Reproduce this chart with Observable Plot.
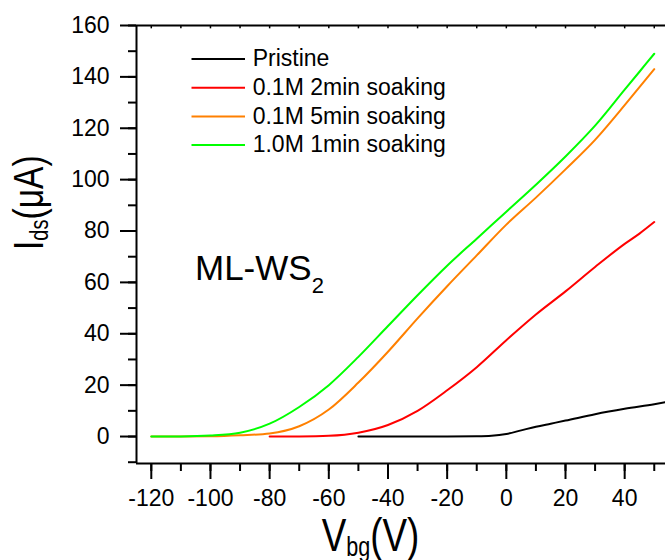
<!DOCTYPE html>
<html><head><meta charset="utf-8">
<script src="https://cdn.jsdelivr.net/npm/d3@7"></script>
<script src="https://cdn.jsdelivr.net/npm/@observablehq/plot@0.6"></script>
<style>body{margin:0;background:#fff} svg{display:block}</style>
</head><body><div id="chart"></div>
<script>
// ---- data ----
const seriesNames = ["Pristine", "0.1M 2min soaking", "0.1M 5min soaking", "1.0M 1min soaking"];
const seriesColors = ["#000000", "#ff0000", "#ff8000", "#00ff00"];

const pristineV = [-50, -20, -10, -5, 0, 5, 10, 15, 20, 30, 40, 50, 54];
const pristineI = [0, 0, 0.1, 0.3, 1, 2.4, 3.8, 5, 6.2, 8.7, 10.8, 12.6, 13.4];

const m01_2minV = [-80, -70, -60, -50, -40, -30, -20, -10, 0, 10, 20, 30, 40, 45, 50];
const m01_2minI = [0, 0.05, 0.3, 1.5, 4.5, 10, 18, 27, 37.5, 47.5, 56.5, 66, 75, 79, 83.5];

const m01_5minV = [-120, -110, -100, -90, -80, -70, -60, -50, -40, -30, -20, -10, 0, 10, 20, 30, 40, 45, 50];
const m01_5minI = [0, 0, 0.1, 0.5, 1.2, 4, 10.5, 21, 33, 46, 58.5, 70.5, 82.5, 93, 104, 115.5, 129, 136, 143];

const m10_1minV = [-120, -110, -100, -90, -80, -70, -60, -50, -40, -30, -20, -10, 0, 10, 20, 30, 40, 45, 50];
const m10_1minI = [0, 0.05, 0.4, 1.5, 5, 11.5, 20, 31, 43, 55, 66.5, 77, 87.5, 98, 109, 121, 135, 142, 149];

const xMajorTicks = [-120, -100, -80, -60, -40, -20, 0, 20, 40];
const xMinorTicks = [-120, -110, -100, -90, -80, -70, -60, -50, -40, -30, -20, -10, 0, 10, 20, 30, 40, 50];
const yMajorTicks = [0, 20, 40, 60, 80, 100, 120, 140, 160];
const yMinorTicks = [-10, 0, 10, 20, 30, 40, 50, 60, 70, 80, 90, 100, 110, 120, 130, 140, 150, 160];

const xDomain = [-125, 53.8];
const yDomain = [-10.5, 160];

// ---- build table ----
const seriesV = [pristineV, m01_2minV, m01_5minV, m10_1minV];
const seriesI = [pristineI, m01_2minI, m01_5minI, m10_1minI];
const data = [];
seriesNames.forEach((name, k) => {
  seriesV[k].forEach((v, j) => data.push({series: name, V: v, I: seriesI[k][j]}));
});

const font = "'Liberation Sans', Arial, Helvetica, sans-serif";

const plot = Plot.plot({
  width: 665,
  height: 560,
  marginLeft: 136,
  marginRight: 0,
  marginTop: 25,
  marginBottom: 97,
  x: {domain: xDomain, label: null},
  y: {domain: yDomain, label: null},
  color: {domain: seriesNames, range: seriesColors},
  style: {fontFamily: font, fontSize: "23px", color: "#000", background: "#fff", overflow: "visible"},
  marks: [
    Plot.line(data, {x: "V", y: "I", z: "series", stroke: "series", strokeWidth: 2, curve: "monotone-x"}),
    Plot.ruleX([xDomain[0]], {stroke: "#000", strokeWidth: 2}),
    Plot.ruleY([yDomain[0]], {stroke: "#000", strokeWidth: 2}),
    Plot.ruleY([yDomain[1]], {stroke: "#000", strokeWidth: 2}),
    Plot.ruleX(xMinorTicks, {x: d => d, y1: yDomain[1], y2: yDomain[1] - 1.3, stroke: "#000", strokeWidth: 1.5}),
    Plot.axisX({ticks: xMajorTicks, tickSize: 16, tickPadding: 10, strokeWidth: 2, tickFormat: d => String(d), label: null}),
    Plot.axisX({ticks: xMinorTicks, tickSize: 8, strokeWidth: 2, tickFormat: () => "", label: null}),
    Plot.axisY({ticks: yMajorTicks, tickSize: 16, tickPadding: 11, strokeWidth: 2, tickFormat: d => String(d), label: null}),
    Plot.axisY({ticks: yMinorTicks, tickSize: 8, strokeWidth: 2, tickFormat: () => "", label: null})
  ]
});

const svg = d3.select(plot);

// legend
const leg = svg.append("g").attr("font-family", font).attr("font-size", 23).attr("fill", "#000").attr("text-anchor", "start");
seriesNames.forEach((name, i) => {
  const yc = 59 + i * 28.7;
  leg.append("line").attr("x1", 191.5).attr("x2", 245).attr("y1", yc).attr("y2", yc)
    .attr("stroke", seriesColors[i]).attr("stroke-width", 2);
  leg.append("text").attr("x", 252.7).attr("y", yc + 7.3).text(name);
});

// sample label
const ml = svg.append("text").attr("x", 195).attr("y", 280).attr("text-anchor", "start")
  .attr("font-family", font).attr("font-size", 35).attr("fill", "#000");
ml.append("tspan").text("ML-WS");
ml.append("tspan").attr("font-size", 22).attr("dy", 13).text("2");

// x title
const xt = svg.append("text").attr("transform", "translate(321.7,551) scale(0.8,1)").attr("text-anchor", "start")
  .attr("font-family", font).attr("font-size", 46).attr("fill", "#000");
xt.append("tspan").text("V");
xt.append("tspan").attr("font-size", 27).attr("dy", 5).text("bg");
xt.append("tspan").attr("dy", -5).text("(V)");

// y title
const yt = svg.append("text").attr("transform", "translate(43,250) rotate(-90) scale(0.8,1)").attr("text-anchor", "start")
  .attr("font-family", font).attr("font-size", 42).attr("fill", "#000");
yt.append("tspan").text("I");
yt.append("tspan").attr("font-size", 25).attr("dy", 5).text("ds");
yt.append("tspan").attr("dy", -5).text("(μA)");

document.getElementById("chart").appendChild(plot);
</script>
</body></html>
